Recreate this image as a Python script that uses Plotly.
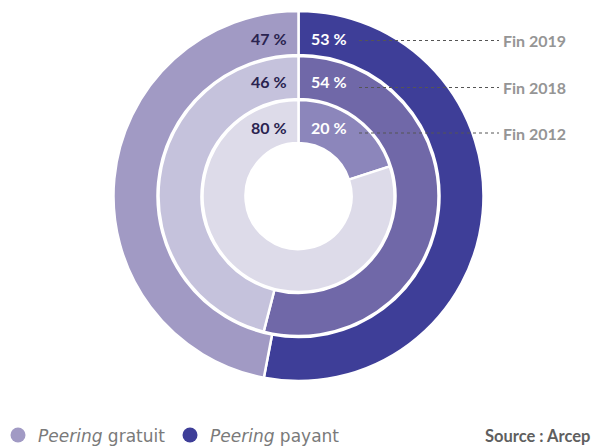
import plotly.graph_objects as go

# Data
years = ["Fin 2019", "Fin 2018", "Fin 2012"]
payant = [53, 54, 20]
gratuit = [47, 46, 80]
series_names = ["<i>Peering</i> gratuit", "<i>Peering</i> payant"]
source_text = "Source : Arcep"

# Styling (the page body has an 8px margin, so the figure is 8px smaller
# and every pixel position is relative to the figure's own corner)
OFF = 8
W, H = 603 - OFF, 448 - OFF
cx, cy = 298.5 - OFF, 196.0 - OFF  # pixel centre (from top)
ring_radii = [(141, 185), (97, 140), (53, 96)]  # (inner, outer) px
payant_colors = ["#3e3e98", "#7068a8", "#8c86bb"]
gratuit_colors = ["#a19ac4", "#c5c2dc", "#dddbe9"]
label_y = [38.5 - OFF, 81 - OFF, 127.5 - OFF]
line_y = [40.5 - OFF, 87.5 - OFF, 133 - OFF]
FONT = "Lato"

fig = go.Figure()

for i, yr in enumerate(years):
    r_in, r_out = ring_radii[i]
    fig.add_trace(go.Pie(
        values=[payant[i], gratuit[i]],
        labels=["payant", "gratuit"],
        sort=False,
        direction="clockwise",
        rotation=0,
        hole=r_in / r_out,
        textinfo="none",
        hoverinfo="label+percent",
        marker=dict(colors=[payant_colors[i], gratuit_colors[i]],
                    line=dict(color="white", width=2.5)),
        domain=dict(x=[(cx - r_out) / W, (cx + r_out) / W],
                    y=[(H - cy - r_out) / H, (H - cy + r_out) / H]),
        showlegend=False,
    ))

# legend entries
for name, col in zip(series_names, [gratuit_colors[0], payant_colors[0]]):
    fig.add_trace(go.Scatter(x=[None], y=[None], mode="markers", name=name,
                             marker=dict(color=col, size=15, symbol="circle")))

annotations = []
shapes = []
for i, yr in enumerate(years):
    annotations.append(dict(x=(329 - OFF) / W, y=1 - label_y[i] / H, xref="paper", yref="paper",
                            xanchor="center", yanchor="middle",
                            text=f"<b>{payant[i]} %</b>", showarrow=False,
                            font=dict(family=FONT, size=16, color="white")))
    annotations.append(dict(x=(269 - OFF) / W, y=1 - label_y[i] / H, xref="paper", yref="paper",
                            xanchor="center", yanchor="middle",
                            text=f"<b>{gratuit[i]} %</b>", showarrow=False,
                            font=dict(family=FONT, size=16, color="#2a2350")))
    annotations.append(dict(x=(501 - OFF) / W, y=1 - line_y[i] / H, xref="paper", yref="paper",
                            xanchor="left", yanchor="middle",
                            text=f"<b>{yr}</b>", showarrow=False,
                            font=dict(family=FONT, size=16, color="#959595")))
    shapes.append(dict(type="line", xref="paper", yref="paper",
                       x0=(359 - OFF) / W, x1=(499 - OFF) / W,
                       y0=1 - line_y[i] / H, y1=1 - line_y[i] / H,
                       line=dict(color="#555555", width=1, dash="dot")))

annotations.append(dict(x=(592 - OFF) / W, y=1 - (436 - OFF) / H, xref="paper", yref="paper",
                        xanchor="right", yanchor="middle",
                        text=f"<b>{source_text}</b>", showarrow=False,
                        font=dict(family=FONT, size=16.5, color="#5f5f5f")))

fig.update_layout(
    width=W, height=H,
    margin=dict(l=0, r=0, t=0, b=0, autoexpand=False),
    paper_bgcolor="white", plot_bgcolor="white",
    xaxis=dict(visible=False), yaxis=dict(visible=False),
    showlegend=True,
    legend=dict(orientation="h", xref="container", yref="container",
                x=0, y=1 - (435.5 - OFF) / H,
                yanchor="middle", xanchor="left", indentation=-10,
                entrywidth=137, entrywidthmode="pixels",
                font=dict(family="DejaVu Sans", size=17, color="#7a7a7a"),
                bgcolor="rgba(0,0,0,0)", itemclick=False),
    annotations=annotations,
    shapes=shapes,
)

fig.write_html("out.html")
